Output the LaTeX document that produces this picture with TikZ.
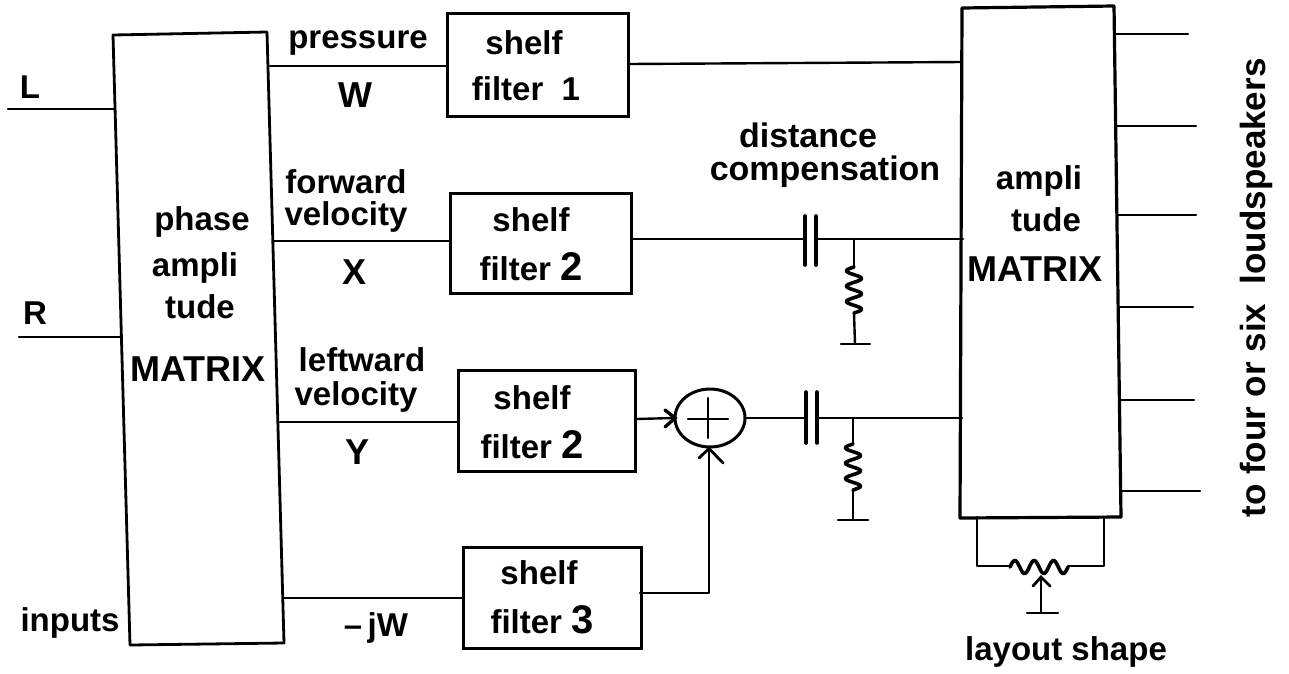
\documentclass[tikz,border=0pt]{standalone}
\usepackage{fontspec}
\usetikzlibrary{shapes.geometric}
\setmainfont{Liberation Sans}
\newcommand{\fz}[1]{\fontsize{#1}{#1}\selectfont}
\tikzset{
 wire/.style={line width=2.4pt,line cap=round,line join=round},
 coil/.style={line width=3.6pt,line join=round,line cap=round},
 barb/.style={line width=2.8pt,line cap=round,line join=miter},
 plate/.style={line width=3.6pt,line cap=round},
 fbox/.style={draw,line width=2.8pt,inner sep=0pt,anchor=north west},
 lab/.style={font=\fz{33}\bfseries,inner sep=0pt},
 big/.style={font=\fz{36}\bfseries,inner sep=0pt},
 wide/.style={font=\fz{34}\bfseries,inner sep=0pt},
 side/.style={font=\fz{35}\bfseries,inner sep=0pt}
}
\begin{document}
\begin{tikzpicture}[x=1pt,y=-1pt]
\useasboundingbox (0,0) rectangle (1289,673);
% blocks
\coordinate (a1) at (113,35); \coordinate (a2) at (267,32); \coordinate (a3) at (284,643); \coordinate (a4) at (130,645);
\draw[line width=2.8pt,line join=round] (a1)--(a2)--(a3)--(a4)--cycle;
\coordinate (b1) at (962,8); \coordinate (b2) at (1114,6); \coordinate (b3) at (1121,517); \coordinate (b4) at (960,518);
\draw[line width=3.2pt,line join=round] (b1)--(b2)--(b3)--(b4)--cycle;
\node[fbox,minimum width=181pt,minimum height=103pt] (s1) at (446,12) {};
\node[fbox,minimum width=181pt,minimum height=100pt] (s2) at (449,192) {};
\node[fbox,minimum width=177pt,minimum height=101pt] (s3) at (457,369) {};
\node[fbox,minimum width=178pt,minimum height=101pt] (s4) at (462,546) {};
% block labels
\node[lab] (t1) at (202,222) {phase}; \node[lab] (t2) at (195,268) {ampli}; \node[lab] (t3) at (200,307) {tude};
\node[big] (t4) at (198,369) {MATRIX};
\node[lab] (tl) at (30,87) {L}; \node[lab] (tr) at (35,313) {R}; \node[lab] (ti) at (70,623) {inputs};
\node[lab] (n1) at (358,43) {pressure}; \node[big] (n2) at (355,95) {W};
\node[lab] (n3) at (346,182) {forward}; \node[lab] (n4) at (346,217) {velocity}; \node[big] (n5) at (355,272) {X};
\node[lab] (n6) at (362,360) {leftward}; \node[lab] (n7) at (356,397) {velocity}; \node[big] (n8) at (358,452) {Y};
\node[lab] (n9) at (376,628) {--\,jW};
\node[lab] (f1a) at (524,43) {shelf}; \node[lab] (f1b) at (526,89) {filter \ 1};
\node[lab] (f2a) at (531,220) {shelf}; \node[lab] (f2b) at (531,267) {filter {\fz{40}2}};
\node[lab] (f3a) at (532,398) {shelf}; \node[lab] (f3b) at (532,445) {filter {\fz{40}2}};
\node[lab] (f4a) at (539,573) {shelf}; \node[lab] (f4b) at (542,620) {filter {\fz{40}3}};
\node[wide] (d1) at (808,135) {distance};
\node[wide] (d2) at (825,172) {compensation};
\node[lab] (r1) at (1039,181) {ampli}; \node[lab] (r2) at (1046,220) {tude}; \node[big] (r3) at (1035,269) {MATRIX};
\node[lab] (ls) at (1066,652) {layout shape};
\node[side,rotate=90] (sp) at (1256,288) {to four or six \ loudspeakers};
% inputs
\coordinate (il) at (8,109); \coordinate (ir) at (19,337);
\coordinate (ilb) at (115,109); \coordinate (irb) at (122,337);
\draw[wire] (il)--(ilb); \draw[wire] (ir)--(irb);
% W path
\coordinate (w0) at (270,66); \coordinate (wi) at (446,66); \coordinate (wo) at (629,64); \coordinate (wE) at (962,62);
\draw[wire] (w0)--(wi); \draw[wire] (wo)--(wE);
% X path
\coordinate (x0) at (274,241); \coordinate (xi) at (449,241); \coordinate (xo) at (632,239);
\coordinate (c1a) at (805,239); \coordinate (c1b) at (816,239); \coordinate (j1) at (854,239); \coordinate (xE) at (963,239);
\draw[wire] (x0)--(xi); \draw[wire] (xo)--(c1a); \draw[wire] (c1b)--(xE);
\draw[plate] (805,216)--(805,265); \draw[plate] (816,216)--(816,265);
\coordinate (r1t) at (854,267); \coordinate (r1b) at (854,313); \coordinate (g1) at (855,344);
\draw[wire] (j1)--(r1t);
\draw[coil,shift={(r1t)}] plot[domain=0:46,samples=73] ({-7.5*sin(\x/46*1080)},\x);
\draw[wire] (r1b)--(g1); \draw[wire] (841,344)--(870,344);
% Y path
\node[ellipse,draw,line width=3pt,minimum width=70pt,minimum height=58pt,inner sep=0pt] (sum) at (710,418) {};
\draw[wire] (688,419)--(728,419); \draw[wire] (708,398)--(708,438);
\coordinate (y0) at (280,422); \coordinate (yi) at (457,422); \coordinate (yo) at (636,419);
\coordinate (c2a) at (806,418); \coordinate (c2b) at (817,418); \coordinate (j2) at (853,418); \coordinate (yE) at (962,418);
\draw[wire] (y0)--(yi); \draw[wire] (yo)--(sum.west);
\draw[wire] (sum.east)--(c2a); \draw[wire] (c2b)--(yE);
\draw[plate] (806,392)--(806,443); \draw[plate] (817,392)--(817,443);
\coordinate (r2t) at (853,444); \coordinate (r2b) at (853,490); \coordinate (g2) at (853,520);
\draw[wire] (j2)--(r2t);
\draw[coil,shift={(r2t)}] plot[domain=0:46,samples=73] ({-7.5*sin(\x/46*1080)},\x);
\draw[wire] (r2b)--(g2); \draw[wire] (838,520)--(868,520);
\draw[line width=3.4pt,line cap=round] (665,410)--(675,418)--(665,427);
% -jW path
\coordinate (z0) at (284,598); \coordinate (zi) at (462,598); \coordinate (zo) at (640,593); \coordinate (zc) at (709,593);
\draw[wire] (z0)--(zi);
\draw[wire] (zo)--(zc)--(zc|-sum.south);
\draw[barb] (699,458)--(zc|-sum.south)--(723,463);
% outputs
\foreach \n/\xa/\y/\xe in {o1/1114/34/1188,o2/1116/126/1196,o3/1117/215/1196,o4/1119/307/1193,o5/1120/400/1194,o6/1121/491/1200}{
 \coordinate (\n) at (\xe,\y); \coordinate (\n s) at (\xa,\y); \draw[wire] (\n s)--(\n);
}
% layout potentiometer
\coordinate (p1) at (977,517); \coordinate (p2) at (977,566); \coordinate (p3) at (1010,566);
\coordinate (p4) at (1068,566); \coordinate (p5) at (1104,566); \coordinate (p6) at (1104,517);
\draw[wire] (p1)--(p2)--(p3); \draw[wire] (p4)--(p5)--(p6);
\draw[coil,shift={(p3)}] plot[domain=0:58,samples=73] (\x,{-6.5*sin(\x/58*1080)+1});
\coordinate (wt) at (1041,577); \coordinate (wb) at (1041,613);
\draw[wire] (wt)--(wb); \draw[wire] (1027,613)--(1058,613);
\draw[barb] (1033,586)--(wt)--(1050,586);
\end{tikzpicture}
\end{document}
